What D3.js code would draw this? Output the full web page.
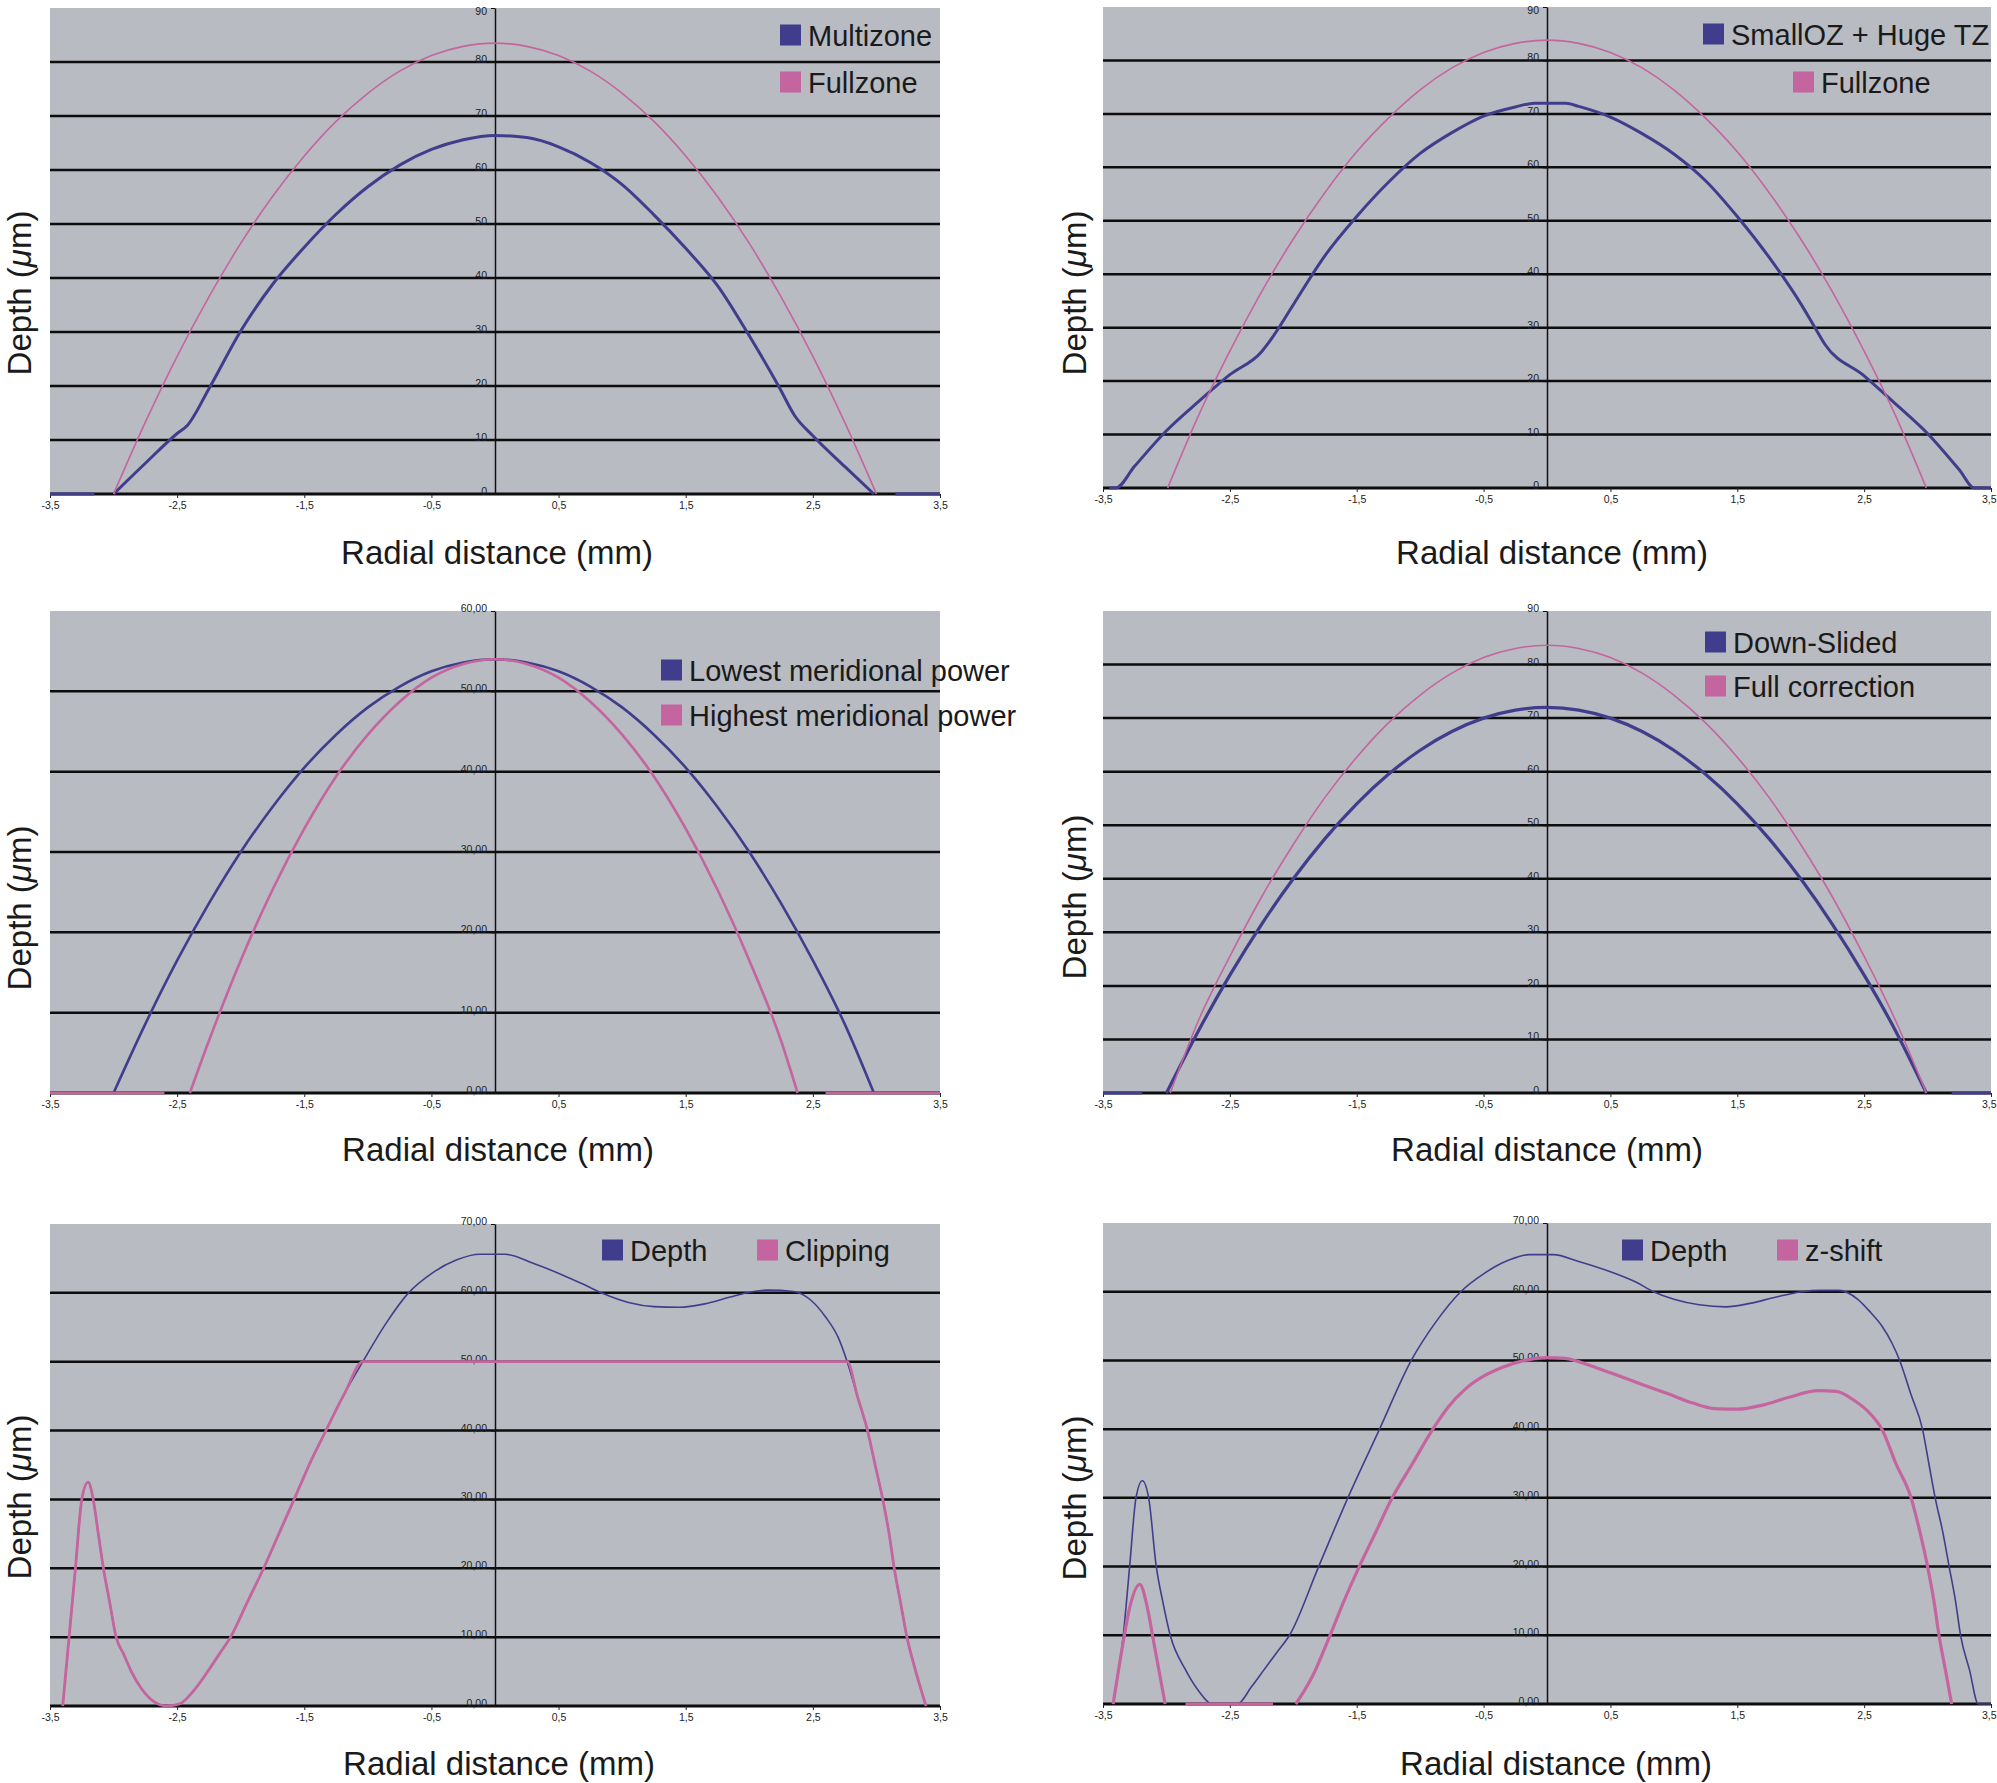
<!DOCTYPE html>
<html>
<head>
<meta charset="utf-8">
<script src="https://cdn.jsdelivr.net/npm/d3@7"></script>
<style>
  body { margin: 0; background: #fff; }
  svg text { font-family: "Liberation Sans", Arial, sans-serif; fill: #1a1a1a; }
  .tick text { font-family: "Liberation Sans Narrow", "Liberation Sans", Arial, sans-serif; }
</style>
</head>
<body>
<svg id="chart"></svg>
<script>
// tick values
const xTicks = [-3.5, -2.5, -1.5, -0.5, 0.5, 1.5, 2.5, 3.5];
const yTicks90 = [0, 10, 20, 30, 40, 50, 60, 70, 80, 90];
const yTicks60 = [0, 10, 20, 30, 40, 50, 60];
const yTicks70 = [0, 10, 20, 30, 40, 50, 60, 70];

// legend labels
const legendTL = ["Multizone", "Fullzone"];
const legendTR = ["SmallOZ + Huge TZ", "Fullzone"];
const legendML = ["Lowest meridional power", "Highest meridional power"];
const legendMR = ["Down-Slided", "Full correction"];
const legendBL = ["Depth", "Clipping"];
const legendBR = ["Depth", "z-shift"];

// series: [radial distance mm, depth um], null = gap
const multizone = [[-3.5,0],[-3.15,0],[-3.1,null],[-3.0,0],[-2.75,5.7],[-2.5,11.2],[-2.42,12.7],[-2.25,19.5],[-2.0,30.2],[-1.75,38.8],[-1.5,45.7],[-1.25,51.8],[-1.0,56.9],[-0.75,60.9],[-0.5,63.8],[-0.25,65.6],[0,66.4],[0.25,66.0],[0.5,64.3],[0.75,61.4],[1.0,57.3],[1.25,51.7],[1.5,45.5],[1.75,38.6],[2.0,29.3],[2.23,20],[2.36,14.4],[2.5,10.8],[2.75,5.1],[2.98,0],[3.05,null],[3.15,0],[3.5,0]];
const fullzoneA = [[-3.0,0],[-2.75,13.3],[-2.5,25.5],[-2.25,36.5],[-2.0,46.4],[-1.75,55.1],[-1.5,62.6],[-1.25,69.0],[-1.0,74.2],[-0.75,78.3],[-0.5,81.2],[-0.25,82.9],[0,83.5],[0.25,82.9],[0.5,81.2],[0.75,78.3],[1.0,74.2],[1.25,69.0],[1.5,62.6],[1.75,55.1],[2.0,46.4],[2.25,36.5],[2.5,25.5],[2.75,13.3],[3.0,0]];

const smallOzHugeTz = [[-3.45,0],[-3.4,0],[-3.25,4.1],[-3.0,10.7],[-2.75,16.1],[-2.5,21.2],[-2.25,25.5],[-2.2,27.0],[-2.1,30.5],[-2.0,34.3],[-1.75,43.5],[-1.5,50.8],[-1.25,57.2],[-1.0,62.6],[-0.75,66.5],[-0.5,69.6],[-0.25,71.3],[-0.1,72.0],[0.15,72.0],[0.25,71.4],[0.5,69.4],[0.75,66.3],[1.0,62.5],[1.25,57.5],[1.5,50.8],[1.75,43.2],[2.0,34.5],[2.1,30.5],[2.19,26.9],[2.5,21.0],[2.75,15.7],[3.0,10.2],[3.25,3.4],[3.37,0],[3.5,0]];
const fullzoneB = [[-2.99,0],[-2.75,13.4],[-2.5,25.6],[-2.25,36.7],[-2.0,46.6],[-1.75,55.3],[-1.5,62.9],[-1.25,69.2],[-1.0,74.5],[-0.75,78.6],[-0.5,81.5],[-0.25,83.2],[0,83.8],[0.25,83.2],[0.5,81.5],[0.75,78.6],[1.0,74.5],[1.25,69.2],[1.5,62.9],[1.75,55.3],[2.0,46.6],[2.25,36.7],[2.5,25.6],[2.75,13.4],[2.99,0]];

const lowestMeridional = [[-3.0,0],[-2.75,8.6],[-2.5,16.5],[-2.25,23.6],[-2.0,30.0],[-1.75,35.6],[-1.5,40.5],[-1.25,44.6],[-1.0,48.0],[-0.75,50.6],[-0.5,52.5],[-0.25,53.6],[0,54.0],[0.25,53.6],[0.5,52.5],[0.75,50.6],[1.0,48.0],[1.25,44.6],[1.5,40.5],[1.75,35.6],[2.0,30.0],[2.25,23.6],[2.5,16.5],[2.75,8.6],[2.98,0]];
const highestMeridional = [[-3.5,0],[-2.6,0],[-2.5,null],[-2.4,0],[-2.25,6.5],[-2.0,16.5],[-1.75,25.3],[-1.5,32.9],[-1.25,39.4],[-1.0,44.6],[-0.75,48.7],[-0.5,51.7],[-0.25,53.4],[0,54.0],[0.25,53.4],[0.5,51.7],[0.75,48.7],[1.0,44.6],[1.25,39.4],[1.5,32.9],[1.75,25.3],[2.0,16.5],[2.25,6.5],[2.38,0],[2.5,null],[2.6,0],[3.5,0]];

const downSlided = [[-3.5,0],[-3.19,0],[-3.1,null],[-3.0,0],[-2.75,11.5],[-2.5,22.0],[-2.25,31.5],[-2.0,40.0],[-1.75,47.5],[-1.5,54.0],[-1.25,59.5],[-1.0,64.0],[-0.75,67.5],[-0.5,70.0],[-0.25,71.5],[0,72.0],[0.25,71.5],[0.5,70.0],[0.75,67.5],[1.0,64.0],[1.25,59.5],[1.5,54.0],[1.75,47.5],[2.0,40.0],[2.25,31.5],[2.5,22.0],[2.75,11.5],[2.99,0],[3.1,null],[3.19,0],[3.5,0]];
const fullCorrection = [[-2.97,0],[-2.75,13.4],[-2.5,25.5],[-2.25,36.6],[-2.0,46.4],[-1.75,55.2],[-1.5,62.7],[-1.25,69.1],[-1.0,74.3],[-0.75,78.4],[-0.5,81.3],[-0.25,83.0],[0,83.6],[0.25,83.0],[0.5,81.3],[0.75,78.4],[1.0,74.3],[1.25,69.1],[1.5,62.7],[1.75,55.2],[2.0,46.4],[2.25,36.6],[2.5,25.5],[2.75,13.4],[2.99,0]];

const depthClip = [[-3.40,0],[-3.35,10],[-3.30,20],[-3.25,30],[-3.20,32.5],[-3.16,30],[-3.12,25],[-3.08,20],[-3.03,15],[-2.98,10],[-2.92,7.5],[-2.86,5],[-2.78,2.5],[-2.68,0.6],[-2.58,0],[-2.48,0.3],[-2.38,2],[-2.26,5],[-2.17,7.5],[-2.08,10],[-1.95,15],[-1.82,20],[-1.70,25],[-1.58,30],[-1.45,35.5],[-1.33,40],[-1.18,45.5],[-1.04,50],[-0.86,55.5],[-0.68,60],[-0.5,62.8],[-0.3,64.8],[-0.12,65.6],[0.08,65.6],[0.3,64.3],[0.53,62.6],[0.7,61.2],[0.85,59.9],[1.05,58.6],[1.25,58.0],[1.45,57.9],[1.65,58.4],[1.85,59.4],[2.0,60.1],[2.15,60.4],[2.35,60.2],[2.48,59.0],[2.6,56.5],[2.7,53.5],[2.77,50],[2.85,45],[2.93,40],[2.99,35],[3.05,30],[3.10,25],[3.14,20],[3.19,15],[3.24,10],[3.31,5],[3.39,0]];
const clipping = [[-3.40,0],[-3.35,10],[-3.30,20],[-3.25,30],[-3.20,32.5],[-3.16,30],[-3.12,25],[-3.08,20],[-3.03,15],[-2.98,10],[-2.92,7.5],[-2.86,5],[-2.78,2.5],[-2.68,0.6],[-2.58,0],[-2.48,0.3],[-2.38,2],[-2.26,5],[-2.17,7.5],[-2.08,10],[-1.95,15],[-1.82,20],[-1.70,25],[-1.58,30],[-1.45,35.5],[-1.33,40],[-1.18,45.5],[-1.04,50],[-0.9,50],[2.77,50],[2.85,45],[2.93,40],[2.99,35],[3.05,30],[3.10,25],[3.14,20],[3.19,15],[3.24,10],[3.31,5],[3.39,0]];

const depthShift = [[-3.42,0],[-3.34,10],[-3.29,20],[-3.24,30],[-3.19,32.5],[-3.14,30],[-3.08,20],[-3.03,15],[-2.97,10],[-2.85,5],[-2.75,2],[-2.64,0],[-2.44,0],[-2.33,2.5],[-2.23,5],[-2.13,7.5],[-2.03,10],[-1.80,20],[-1.57,30],[-1.32,40],[-1.07,50],[-0.88,55.5],[-0.68,60],[-0.5,62.6],[-0.3,64.6],[-0.14,65.4],[0.05,65.4],[0.25,64.4],[0.5,62.9],[0.7,61.4],[0.84,60],[1.0,58.9],[1.2,58.1],[1.41,57.8],[1.6,58.3],[1.8,59.2],[2.01,60],[2.15,60.2],[2.3,60.2],[2.45,58.9],[2.55,57],[2.64,55],[2.72,52.5],[2.78,50],[2.87,45],[2.96,40],[3.01,35],[3.06,30],[3.12,25],[3.17,20],[3.22,15],[3.26,10],[3.33,5],[3.40,0],[3.5,0]];
const zShift = [[-3.42,0],[-3.35,8],[-3.29,14],[-3.21,17.4],[-3.15,14],[-3.10,9],[-3.05,4],[-3.01,0],[-2.95,null],[-2.85,0],[-2.16,0],[-2.1,null],[-1.98,0],[-1.85,4],[-1.71,10],[-1.6,15],[-1.48,20],[-1.35,25],[-1.22,30],[-1.06,35],[-0.90,40],[-0.78,43.2],[-0.64,45.9],[-0.5,47.7],[-0.35,49.0],[-0.2,49.9],[0,50.4],[0.14,50.3],[0.35,49.2],[0.5,48.2],[0.75,46.5],[0.96,45.1],[1.15,43.8],[1.32,43.0],[1.5,42.9],[1.7,43.5],[1.9,44.6],[2.14,45.6],[2.28,45.5],[2.42,44.2],[2.55,42.2],[2.64,40],[2.75,35],[2.87,30],[2.94,25],[3.0,20],[3.05,15],[3.09,10],[3.14,5],[3.19,0]];

const W = 1997, H = 1783;
const bg = "#b8bbc2";
const navy = "#403e8c";
const pink = "#c5659f";

const loc = d3.formatLocale({decimal: ",", thousands: " ", grouping: [3], currency: ["", ""], minus: "-"});
const fmtX = loc.format(".1f");
const fmtInt = loc.format("d");
const fmt2 = loc.format(".2f");

let svg = d3.select("#chart").attr("width", W).attr("height", H);
svg.append("rect").attr("width", W).attr("height", H).attr("fill", "#fff");

// layout of the six panels (box = left, right, top, bottom)
const panels = [
    { box: [50, 940, 8, 494], yTicks: yTicks90, yFmt: fmtInt,
      series: [[multizone, navy, 3], [fullzoneA, pink, 1.6]],
      legend: [[legendTL[0], navy, 780, 35], [legendTL[1], pink, 780, 82]],
      yTitle: [19, 293], xTitle: [497, 564] },
    { box: [1103, 1991, 7, 488], yTicks: yTicks90, yFmt: fmtInt,
      series: [[smallOzHugeTz, navy, 3], [fullzoneB, pink, 1.6]],
      legend: [[legendTR[0], navy, 1703, 34], [legendTR[1], pink, 1793, 82]],
      yTitle: [1074, 293], xTitle: [1552, 564] },
    { box: [50, 940, 611, 1093], yTicks: yTicks60, yFmt: fmt2,
      series: [[lowestMeridional, navy, 2.6], [highestMeridional, pink, 2.6]],
      legend: [[legendML[0], navy, 661, 670], [legendML[1], pink, 661, 715]],
      yTitle: [19, 908], xTitle: [498, 1161] },
    { box: [1103, 1991, 611, 1093], yTicks: yTicks90, yFmt: fmtInt,
      series: [[downSlided, navy, 3.2], [fullCorrection, pink, 1.6]],
      legend: [[legendMR[0], navy, 1705, 642], [legendMR[1], pink, 1705, 686]],
      yTitle: [1074, 897], xTitle: [1547, 1161] },
    { box: [50, 940, 1224, 1706], yTicks: yTicks70, yFmt: fmt2,
      series: [[depthClip, navy, 1.6], [clipping, pink, 2.8]],
      legend: [[legendBL[0], navy, 602, 1250], [legendBL[1], pink, 757, 1250]],
      yTitle: [19, 1497], xTitle: [499, 1775] },
    { box: [1103, 1991, 1223, 1704], yTicks: yTicks70, yFmt: fmt2,
      series: [[depthShift, navy, 1.6], [zShift, pink, 3.2]],
      legend: [[legendBR[0], navy, 1622, 1250], [legendBR[1], pink, 1777, 1250]],
      yTitle: [1074, 1498], xTitle: [1556, 1775] }
];

function drawPanel(p) {
    const [x0, x1, y0, y1] = p.box;
    const scX = d3.scaleLinear().domain([-3.5, 3.5]).range([x0, x1]);
    const scY = d3.scaleLinear().domain([0, d3.max(p.yTicks)]).range([y1, y0]);
    let g = svg.append("g");

    g.append("rect")
        .attr("x", x0).attr("y", y0)
        .attr("width", x1 - x0).attr("height", y1 - y0)
        .attr("fill", bg);

    // horizontal gridlines (no line on the top edge)
    g.selectAll(".grid")
        .data(p.yTicks.slice(0, -1))
        .enter()
        .append("line")
        .attr("x1", x0).attr("x2", x1)
        .attr("y1", d => scY(d)).attr("y2", d => scY(d))
        .attr("stroke", "#0d0d0d")
        .attr("stroke-width", d => d === 0 ? 2.8 : 2.5);

    // x axis ticks + labels
    let ax = g.append("g")
        .attr("transform", `translate(0, ${y1})`)
        .call(d3.axisBottom(scX).tickValues(xTicks).tickFormat(fmtX).tickSize(4).tickSizeOuter(0).tickPadding(4));
    ax.select(".domain").remove();
    ax.selectAll(".tick line").attr("stroke", "#222");
    ax.selectAll("text").attr("font-size", 10.5).style("fill", "#222");
    // keep the last label inside the page on the right-hand panels
    if (x1 + 8 > W) {
        ax.selectAll(".tick text").filter(d => d === 3.5).attr("text-anchor", "end").attr("x", 5);
    }

    // y axis at x = 0
    let ay = g.append("g")
        .attr("transform", `translate(${scX(0)}, 0)`)
        .call(d3.axisLeft(scY).tickValues(p.yTicks).tickFormat(p.yFmt).tickSize(4).tickSizeOuter(0).tickPadding(4));
    ay.select(".domain").attr("stroke", "#111").attr("stroke-width", 1.5);
    ay.selectAll(".tick line").attr("stroke", "#111");
    ay.selectAll("text").attr("font-size", 10.5).style("fill", "#222")
        .attr("dy", d => d === d3.max(p.yTicks) && y0 < 20 ? "0.6em" : "0.05em");

    // curves
    let line = d3.line()
        .defined(d => d[1] !== null)
        .x(d => scX(d[0]))
        .y(d => scY(d[1]))
        .curve(d3.curveMonotoneX);

    p.series.forEach(([data, color, w]) => {
        g.append("path")
            .attr("d", line(data))
            .attr("fill", "none")
            .attr("stroke", color)
            .attr("stroke-width", w)
            .attr("stroke-linejoin", "round");
    });

    // legend
    p.legend.forEach(([name, color, lx, ly]) => {
        g.append("rect")
            .attr("x", lx).attr("y", ly - 10.5)
            .attr("width", 21).attr("height", 21)
            .attr("fill", color);
        g.append("text")
            .attr("x", lx + 28).attr("y", ly + 10.5)
            .attr("font-size", 29)
            .text(name);
    });

    // axis titles
    g.append("text")
        .attr("x", p.xTitle[0]).attr("y", p.xTitle[1])
        .attr("text-anchor", "middle")
        .attr("font-size", 33)
        .text("Radial distance (mm)");

    let yt = g.append("text")
        .attr("transform", `translate(${p.yTitle[0]}, ${p.yTitle[1]}) rotate(-90)`)
        .attr("text-anchor", "middle")
        .attr("dy", "0.35em")
        .attr("font-size", 33);
    yt.append("tspan").text("Depth (");
    yt.append("tspan").attr("font-style", "italic").text("\u03bc");
    yt.append("tspan").text("m)");
}

panels.forEach(drawPanel);
</script>
</body>
</html>
